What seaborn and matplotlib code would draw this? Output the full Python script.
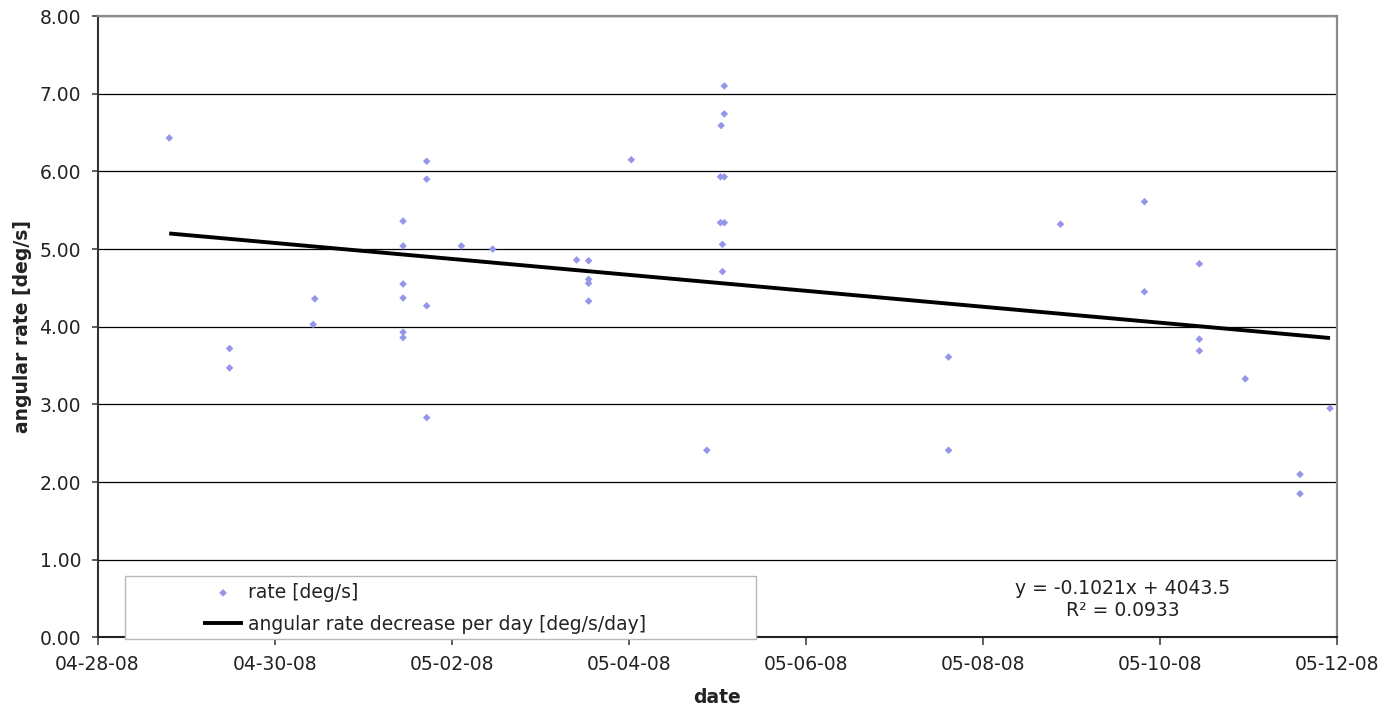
import numpy as np
import pandas as pd
import matplotlib
matplotlib.use("Agg")
import matplotlib.pyplot as plt
import matplotlib.dates as mdates
from matplotlib.patches import Rectangle
import seaborn as sns

# ---- data ----
times = [
    "2008-04-28 19:26",
    "2008-04-29 11:47", "2008-04-29 11:47",
    "2008-04-30 10:26", "2008-04-30 10:53",
    "2008-05-01 10:48", "2008-05-01 10:48", "2008-05-01 10:48",
    "2008-05-01 10:48", "2008-05-01 10:48", "2008-05-01 10:48",
    "2008-05-01 17:12", "2008-05-01 17:12", "2008-05-01 17:12", "2008-05-01 17:12",
    "2008-05-02 02:37",
    "2008-05-02 11:05",
    "2008-05-03 09:50",
    "2008-05-03 13:05", "2008-05-03 13:05", "2008-05-03 13:05", "2008-05-03 13:05",
    "2008-05-04 00:39",
    "2008-05-04 21:07",
    "2008-05-05 01:51", "2008-05-05 01:51",
    "2008-05-05 01:00",
    "2008-05-05 00:49", "2008-05-05 00:49",
    "2008-05-05 01:51", "2008-05-05 01:51",
    "2008-05-05 01:21", "2008-05-05 01:21",
    "2008-05-07 14:37", "2008-05-07 14:37",
    "2008-05-08 20:57",
    "2008-05-09 19:42", "2008-05-09 19:42",
    "2008-05-10 10:35", "2008-05-10 10:35", "2008-05-10 10:35",
    "2008-05-10 23:02",
    "2008-05-11 13:51", "2008-05-11 13:51",
    "2008-05-11 21:59",
]
rate = [
    6.43,
    3.72, 3.47,
    4.03, 4.36,
    5.36, 5.04, 4.55,
    4.37, 3.93, 3.86,
    6.13, 5.90, 4.27, 2.83,
    5.04,
    5.00,
    4.86,
    4.85, 4.61, 4.56, 4.33,
    6.15,
    2.41,
    7.10, 6.74,
    6.59,
    5.93, 5.34,
    5.93, 5.34,
    5.06, 4.71,
    3.61, 2.41,
    5.32,
    5.61, 4.45,
    4.81, 3.84, 3.69,
    3.33,
    2.10, 1.85,
    2.95,
]
x_start, x_end = "2008-04-28", "2008-05-12"
y_ticks = [0, 1, 2, 3, 4, 5, 6, 7, 8]
scatter_label = "rate [deg/s]"
trend_label = "angular rate decrease per day [deg/s/day]"
equation_text = "y = -0.1021x + 4043.5\nR\u00b2 = 0.0933"
x_title = "date"
y_title = "angular rate [deg/s]"

df = pd.DataFrame({"time": pd.to_datetime(times), "rate": rate})
df["xnum"] = mdates.date2num(df["time"])

# ---- style ----
sns.set_theme(style="white")
plt.rcParams["font.family"] = ["DejaVu Sans"]
txt = "#222222"
fs = 13.5

fig = plt.figure(figsize=(13.91, 7.08), dpi=100, facecolor="white")
ax = fig.add_axes([0.0701, 0.0996, 0.8914, 0.8778])
ax.set_facecolor("white")

sns.scatterplot(data=df, x="xnum", y="rate", ax=ax, marker="D", s=15,
                color="#9595ec", edgecolor="none", linewidth=0,
                label=scatter_label, zorder=3)
n_before = len(ax.lines)
sns.regplot(data=df, x="xnum", y="rate", ax=ax, scatter=False, ci=None,
            truncate=True, color="black",
            line_kws=dict(lw=2.8, zorder=3, solid_capstyle="butt"))
trend_line = ax.lines[n_before]
trend_line.set_label(trend_label)

ax.set_xlim(mdates.date2num(pd.Timestamp(x_start)), mdates.date2num(pd.Timestamp(x_end)))
ax.set_ylim(0, 8)
ax.set_xticks(mdates.date2num(pd.date_range(x_start, x_end, freq="2D")))
ax.xaxis.set_major_formatter(mdates.DateFormatter("%m-%d-%y"))
ax.set_yticks(y_ticks)
ax.yaxis.set_major_formatter(matplotlib.ticker.FormatStrFormatter("%.2f"))

ax.grid(False)
ax.yaxis.grid(True, color="black", lw=0.9)
ax.set_axisbelow(True)

for side in ["top", "right"]:
    ax.spines[side].set_visible(True)
    ax.spines[side].set_color("#8c8c8c")
    ax.spines[side].set_linewidth(1.6)
ax.spines["left"].set_color("#333333")
ax.spines["left"].set_linewidth(1.5)
ax.spines["bottom"].set_color("#222222")
ax.spines["bottom"].set_linewidth(1.5)

ax.tick_params(axis="x", which="major", direction="out", length=5.5, width=1.1,
               color="#333333", bottom=True, top=False, pad=7.0,
               labelsize=fs, labelcolor=txt)
ax.tick_params(axis="y", which="major", direction="out", length=4.3, width=1.1,
               color="#333333", left=True, right=False, pad=7.5,
               labelsize=fs, labelcolor=txt)

ax.set_xlabel(x_title, fontsize=13.5, fontweight="bold", color=txt)
ax.set_ylabel(y_title, fontsize=13.5, fontweight="bold", color=txt)
ax.xaxis.set_label_coords(0.5, -0.097)
ax.xaxis.label.set_va("center")
ax.yaxis.set_label_coords(-0.0608, 0.5)
ax.yaxis.label.set_va("center")

# legend box (Excel style) + legend content
rect = Rectangle((0.0221, -0.0024), 0.5093, 0.1018, transform=ax.transAxes,
                 facecolor="white", edgecolor="#b8b8b8", lw=1.0,
                 clip_on=False, zorder=4)
ax.add_patch(rect)
handles, labels = ax.get_legend_handles_labels()
order = [labels.index(scatter_label), labels.index(trend_label)]
leg = ax.legend([handles[i] for i in order], [labels[i] for i in order],
                loc="upper left", bbox_to_anchor=(0.085, 0.088),
                frameon=False, fontsize=fs, borderpad=0, borderaxespad=0,
                handlelength=2.15, handletextpad=0.25, labelspacing=0.68,
                scatterpoints=1, markerscale=1.0)
for t in leg.get_texts():
    t.set_color(txt)
leg.set_zorder(5)

ax.text(0.827, 0.061, equation_text, transform=ax.transAxes, ha="center",
        va="center", fontsize=fs, color=txt, linespacing=1.2, zorder=5)

fig.savefig("out.png", dpi=100, facecolor="white")
